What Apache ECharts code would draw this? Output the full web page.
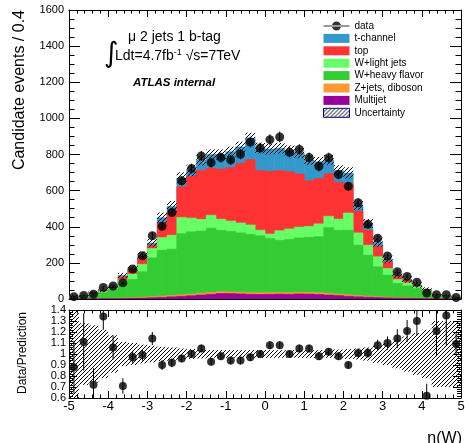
<!DOCTYPE html>
<html><head><meta charset="utf-8">
<script src="https://cdn.jsdelivr.net/npm/echarts@6/dist/echarts.min.js"></script>
<style>html,body{margin:0;padding:0;background:#fff}#c{width:469px;height:443px}</style>
</head><body><div id="c"></div>
<script>
// ---- data ----
const binEdges = [-5,-4.75,-4.5,-4.25,-4,-3.75,-3.5,-3.25,-3,-2.75,-2.5,-2.25,-2,-1.75,-1.5,-1.25,-1,-0.75,-0.5,-0.25,0,
  0.25,0.5,0.75,1,1.25,1.5,1.75,2,2.25,2.5,2.75,3,3.25,3.5,3.75,4,4.25,4.5,4.75,5];
const multijet = [1,1,1,2,2,3,4,5,7,9,12,15,18,22,26,30,30,28,26,25,26,27,26,28,27,25,22,19,15,12,10,8,6,5,4,3,2,1,1,1];
const zjets    = [1,1,1,2,2,3,4,5,6,7,7,8,9,10,10,10,9,9,9,9,9,9,9,9,9,9,9,8,8,7,6,5,4,3,3,2,2,1,1,1];
const wheavy   = [8,10,20,31,48,80,100,141,215,254,257,339,345,344,356,340,335,329,323,316,300,289,295,301,306,311,364,353,357,279,227,165,122,78,65,54,34,15,13,5];
const wlight   = [2,3,6,7,7,20,30,41,52,70,77,90,76,65,72,62,58,55,52,31,25,53,58,60,60,71,63,62,96,68,55,56,37,22,18,9,7,2,2,1];
const topq     = [2,2,5,5,6,18,25,38,18,81,127,170,232,271,261,278,296,331,362,331,347,334,317,294,253,251,235,205,162,121,83,58,37,19,14,6,5,2,1,0.5];
const tchan    = [1,1,3,2,3,6,8,12,12,29,32,46,32,58,75,80,87,90,118,124,123,123,117,116,115,93,77,65,60,33,37,23,14,6,4,4,3,1,1,0.5];
const dataVals = [13,20,26,64,72,90,166,239,350,403,479,654,722,792,755,783,770,801,869,836,882,897,812,828,783,734,782,689,624,533,414,337,238,151,125,93,33,24,24,8];
const dataErr  = [4,4,5,8,8,9,13,15,19,20,22,26,27,28,27,28,28,28,29,29,30,30,28,29,28,27,28,26,25,23,20,18,15,12,11,10,6,5,5,3];
const relUnc   = [0.45,0.28,0.26,0.22,0.17,0.11,0.10,0.085,0.075,0.065,0.06,0.05,0.045,0.04,0.035,0.035,0.035,0.035,0.035,0.035,0.035,0.035,0.035,0.035,0.035,0.035,0.035,0.04,0.045,0.05,0.06,0.08,0.10,0.13,0.16,0.19,0.22,0.30,0.30,0.30];
const ratioVals = [0.88,1.11,0.72,1.34,1.06,0.71,0.97,0.99,1.14,0.90,0.92,0.96,1.00,1.05,0.93,0.98,0.94,0.94,0.97,1.00,1.08,1.08,1.00,1.05,1.05,0.98,1.02,0.98,0.90,1.01,1.01,1.08,1.10,1.14,1.21,1.30,0.62,1.21,1.35,1.09];
const ratioErr  = [0.24,0.26,0.15,0.12,0.11,0.07,0.06,0.05,0.06,0.045,0.04,0.035,0.035,0.035,0.035,0.035,0.035,0.035,0.035,0.035,0.035,0.035,0.035,0.035,0.035,0.035,0.035,0.035,0.035,0.04,0.045,0.05,0.06,0.085,0.1,0.13,0.11,0.23,0.28,0.1];
const yTicksTop = [0,200,400,600,800,1000,1200,1400,1600];
const xTicks = [-5,-4,-3,-2,-1,0,1,2,3,4,5];

const layers = [
  {name:'Multijet', vals:multijet, color:'#990099'},
  {name:'Z+jets, diboson', vals:zjets, color:'#ff9933'},
  {name:'W+heavy flavor', vals:wheavy, color:'#33cc33'},
  {name:'W+light jets', vals:wlight, color:'#66ff66'},
  {name:'top', vals:topq, color:'#ff3333'},
  {name:'t-channel', vals:tchan, color:'#3399cc'}
];

const FONT = '"Liberation Sans", Arial, Helvetica, sans-serif';

function makeHatch(){
  const s = 4, c = document.createElement('canvas');
  c.width = s; c.height = s;
  const g = c.getContext('2d');
  g.strokeStyle = '#000'; g.lineWidth = 1;
  g.beginPath();
  g.moveTo(0, s); g.lineTo(s, 0);
  g.moveTo(-1, 1); g.lineTo(1, -1);
  g.moveTo(s - 1, s + 1); g.lineTo(s + 1, s - 1);
  g.stroke();
  return c;
}
const hatch = {image: makeHatch(), repeat: 'repeat'};

const nb = binEdges.length - 1;
const centers = [];
for (let i = 0; i < nb; i++) centers.push((binEdges[i] + binEdges[i+1]) / 2);

// cumulative tops
const cum = layers.map(() => new Array(nb).fill(0));
for (let i = 0; i < nb; i++) {
  let s = 0;
  layers.forEach((L, j) => { s += L.vals[i]; cum[j][i] = s; });
}
const total = cum[cum.length - 1];

function rectSeries(name, fill, rows, xi, yi, strokeIt, z) {
  return {
    type: 'custom', name: name, xAxisIndex: xi, yAxisIndex: yi, data: rows, clip: true, z: z || 2,
    itemStyle: {color: typeof fill === 'string' ? fill : '#000'},
    encode: {x: [0, 1], y: [2, 3]},
    renderItem: function (p, api) {
      const a = api.coord([api.value(0), api.value(2)]);
      const b = api.coord([api.value(1), api.value(3)]);
      const style = {fill: fill};
      if (strokeIt) { style.stroke = fill; style.lineWidth = 0.6; }
      return {type: 'rect', shape: {x: a[0], y: b[1], width: b[0] - a[0], height: a[1] - b[1]}, style: style};
    }
  };
}
function errSeries(name, xs, ys, es, xi, yi) {
  return {
    type: 'custom', name: name, xAxisIndex: xi, yAxisIndex: yi, clip: true, z: 4,
    data: xs.map((x, i) => [x, ys[i], es[i]]),
    encode: {x: 0, y: 1},
    renderItem: function (p, api) {
      const x = api.value(0), y = api.value(1), e = api.value(2);
      const a = api.coord([x, y - e]), b = api.coord([x, y + e]);
      return {type: 'line', shape: {x1: a[0], y1: a[1], x2: b[0], y2: b[1]}, style: {stroke: '#000', lineWidth: 1}};
    }
  };
}

const series = [];
for (let j = layers.length - 1; j >= 0; j--) {
  const rows = [];
  for (let i = 0; i < nb; i++) rows.push([binEdges[i], binEdges[i+1], 0, cum[j][i]]);
  series.push(rectSeries(layers[j].name, layers[j].color, rows, 0, 0, true, 2));
}
const uncRows = [];
for (let i = 0; i < nb; i++) uncRows.push([binEdges[i], binEdges[i+1], total[i] * (1 - relUnc[i]), total[i] * (1 + relUnc[i])]);
series.push(rectSeries('Uncertainty', hatch, uncRows, 0, 0, false, 3));
series.push(errSeries('dataErr', centers, dataVals, dataErr, 0, 0));
series.push({type: 'scatter', name: 'data', xAxisIndex: 0, yAxisIndex: 0, z: 5, symbol: 'circle', symbolSize: 9,
  itemStyle: {color: '#000'}, data: centers.map((x, i) => [x, dataVals[i]])});
const rbRows = [];
for (let i = 0; i < nb; i++) rbRows.push([binEdges[i], binEdges[i+1], 1 - relUnc[i], 1 + relUnc[i]]);
series.push(rectSeries('ratioBand', hatch, rbRows, 2, 2, false, 3));
series.push(errSeries('ratioErr', centers, ratioVals, ratioErr, 2, 2));
series.push({type: 'scatter', name: 'ratio', xAxisIndex: 2, yAxisIndex: 2, z: 5, symbol: 'circle', symbolSize: 8,
  itemStyle: {color: '#000'}, data: centers.map((x, i) => [x, ratioVals[i]])});

function xAx(grid, pos, showLabel) {
  return {
    type: 'value', gridIndex: grid, position: pos, min: xTicks[0], max: xTicks[xTicks.length - 1], interval: 1,
    axisLine: {show: true, onZero: false, lineStyle: {color: '#000', width: 1}},
    axisTick: {show: true, inside: true, length: 7, lineStyle: {color: '#000'}},
    minorTick: {show: true, splitNumber: 5, length: 3.5, lineStyle: {color: '#000'}},
    splitLine: {show: false}, minorSplitLine: {show: false},
    axisLabel: {show: showLabel, color: '#000', fontSize: 13, fontFamily: FONT, margin: 2,
      formatter: v => (v < 0 ? '-' + Math.abs(v) : String(v))}
  };
}
function yAx(grid, pos, min, max, interval, minorSplit, showLabel, fmt, majorLen, minorLen, margin) {
  return {
    type: 'value', gridIndex: grid, position: pos, min: min, max: max, interval: interval,
    axisLine: {show: true, onZero: false, lineStyle: {color: '#000', width: 1}},
    axisTick: {show: true, inside: true, length: majorLen, lineStyle: {color: '#000'}},
    minorTick: {show: true, splitNumber: minorSplit, length: minorLen, lineStyle: {color: '#000'}},
    splitLine: {show: false}, minorSplitLine: {show: false},
    axisLabel: {show: showLabel, color: '#000', fontSize: 11, fontFamily: FONT, margin: margin, formatter: fmt}
  };
}

const option = {
  animation: false,
  backgroundColor: '#fff',
  textStyle: {fontFamily: FONT, color: '#000'},
  grid: [
    {left: 69, right: 8, top: 10, height: 289},
    {left: 69, right: 8, top: 310, height: 88}
  ],
  xAxis: [xAx(0, 'bottom', false), xAx(0, 'top', false), xAx(1, 'bottom', true), xAx(1, 'top', false)],
  yAxis: [
    yAx(0, 'left', yTicksTop[0], yTicksTop[yTicksTop.length - 1], 200, 4, true, v => String(v), 11, 5.5, 5),
    yAx(0, 'right', yTicksTop[0], yTicksTop[yTicksTop.length - 1], 200, 4, false, null, 11, 5.5, 5),
    yAx(1, 'left', 0.6, 1.4, 0.1, 5, true, v => String(+v.toFixed(1)), 8, 4, 3),
    yAx(1, 'right', 0.6, 1.4, 0.1, 5, false, null, 8, 4, 3)
  ],
  legend: {
    orient: 'vertical', left: 318, top: 16, itemWidth: 26, itemHeight: 9, itemGap: 2.4, selectedMode: false,
    textStyle: {fontSize: 10, fontFamily: FONT, color: '#000', lineHeight: 9},
    data: [
      {name: 'data', icon: 'path://M0,4 L26,4 L26,5 L0,5 Z M8.5,4.5 A4.5,4.5 0 1 0 17.5,4.5 A4.5,4.5 0 1 0 8.5,4.5 Z', itemStyle: {color: '#000'}},
      {name: 't-channel', icon: 'rect', itemStyle: {color: '#3399cc'}},
      {name: 'top', icon: 'rect', itemStyle: {color: '#ff3333'}},
      {name: 'W+light jets', icon: 'rect', itemStyle: {color: '#66ff66'}},
      {name: 'W+heavy flavor', icon: 'rect', itemStyle: {color: '#33cc33'}},
      {name: 'Z+jets, diboson', icon: 'rect', itemStyle: {color: '#ff9933'}},
      {name: 'Multijet', icon: 'rect', itemStyle: {color: '#990099'}},
      {name: 'Uncertainty', icon: 'rect', itemStyle: {color: hatch, borderColor: '#000080', borderWidth: 1}}
    ]
  },
  graphic: [
    {type: 'text', x: 20, y: 10, rotation: Math.PI / 2,
      style: {text: 'Candidate events / 0.4', fontSize: 16, fontFamily: FONT, fill: '#000', align: 'right', verticalAlign: 'middle'}},
    {type: 'text', x: 23, y: 353, rotation: Math.PI / 2,
      style: {text: 'Data/Prediction', fontSize: 12, fontFamily: FONT, fill: '#000', align: 'center', verticalAlign: 'middle'}},
    {type: 'text', x: 462, y: 439,
      style: {text: 'η(W)', fontSize: 16, fontFamily: FONT, fill: '#000', align: 'right', verticalAlign: 'middle'}},
    {type: 'text', x: 128, y: 37,
      style: {text: 'μ 2 jets 1 b-tag', fontSize: 14, fontFamily: FONT, fill: '#000', verticalAlign: 'middle'}},
    {type: 'text', x: 104, y: 55,
      style: {text: '∫', fontSize: 28, fontFamily: '"DejaVu Sans", sans-serif', fill: '#000', verticalAlign: 'middle'}},
    {type: 'text', x: 115, y: 48,
      style: {text: '{a|Ldt=4.7fb}{s|-1}{a| √s=7TeV}', fill: '#000',
        rich: {a: {fontSize: 14, fontFamily: FONT, lineHeight: 16}, s: {fontSize: 9, fontFamily: FONT, verticalAlign: 'top', lineHeight: 16}}}},
    {type: 'text', x: 133, y: 83,
      style: {text: 'ATLAS internal', fontSize: 11.5, fontWeight: 'bold', fontStyle: 'italic', fontFamily: FONT, fill: '#000', verticalAlign: 'middle'}}
  ],
  series: series
};

const chart = echarts.init(document.getElementById('c'), null, {renderer: 'canvas'});
chart.setOption(option);
</script>
</body></html>
